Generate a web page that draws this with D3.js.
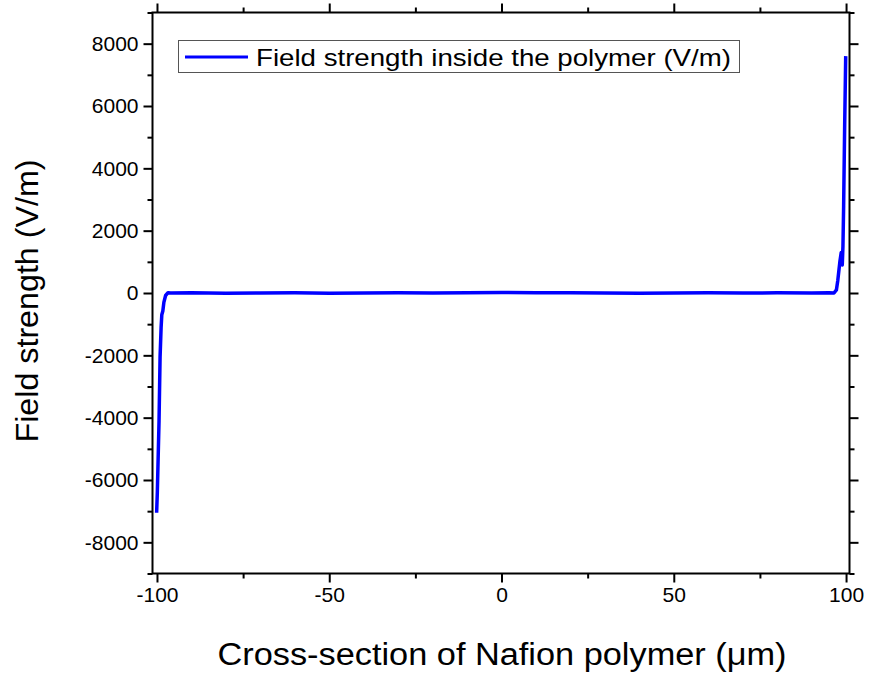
<!DOCTYPE html>
<html>
<head>
<meta charset="utf-8">
<script src="https://cdn.jsdelivr.net/npm/d3@7/dist/d3.min.js"></script>
<style>
  body { margin: 0; background: #fff; }
  svg { display: block; font-family: "Liberation Sans", Arial, sans-serif; }
</style>
</head>
<body>
<svg id="chart" width="869" height="675"></svg>
<script>
// position across the membrane (um)
var positions = [
  -100.1, -99.9, -99.4, -99.1, -98.8, -98.6, -98.3, -98.0, -97.5, -96.8, -96.0,
  -90, -80, -70, -60, -50, -40, -30, -20, -10, 0, 10, 20, 30, 40, 50, 60, 70,
  80, 90, 95, 96.5, 97.2, 97.6, 98.2, 98.6, 98.9, 99.1, 99.3, 99.6, 99.9
];

// field strength inside the polymer (V/m)
var fieldValues = [
  -7050, -6400, -4100, -2050, -1100, -700, -580, -300, -80, 10, 0,
  10, -5, 0, 5, -5, 0, 10, 0, 5, 15, 10, 5, 0, -5, 0, 5, 0,
  5, 0, 10, 0, 100, 400, 1000, 1300, 900, 1500, 2800, 5400, 7600
];

var xTicks = [-100, -50, 0, 50, 100];
var yTicks = [-8000, -6000, -4000, -2000, 0, 2000, 4000, 6000, 8000];
var xMinor = [-75, -25, 25, 75];
var yMinor = [-9000, -7000, -5000, -3000, -1000, 1000, 3000, 5000, 7000, 9000];

var seriesName = 'Field strength inside the polymer (V/m)';

var svg = d3.select('#chart');

// plot frame (edges in pixels)
var frameL = 152.5, frameR = 849.5, frameT = 12.5, frameB = 573.5;

var x = d3.scaleLinear()
  .domain([-101.3, 101])
  .range([frameL, frameR]);

var y = d3.scaleLinear()
  .domain([-9000, 9000])
  .range([frameB, frameT]);

// plain hyphen minus, like the original
var fmt = function (d) { return String(d); };

// bottom axis
svg.append('g')
  .attr('transform', 'translate(0,' + frameB + ')')
  .call(d3.axisBottom(x).tickValues(xTicks).tickSize(9).tickPadding(5)
    .tickFormat(fmt));

svg.append('g')
  .attr('transform', 'translate(0,' + frameB + ')')
  .call(d3.axisBottom(x).tickValues(xMinor).tickSize(5).tickFormat(''));

// top axis, ticks only
svg.append('g')
  .attr('transform', 'translate(0,' + frameT + ')')
  .call(d3.axisTop(x).tickValues(xTicks).tickSize(9).tickFormat(''));

svg.append('g')
  .attr('transform', 'translate(0,' + frameT + ')')
  .call(d3.axisTop(x).tickValues(xMinor).tickSize(5).tickFormat(''));

// left axis
svg.append('g')
  .attr('transform', 'translate(' + frameL + ',0)')
  .call(d3.axisLeft(y).tickValues(yTicks).tickSize(9).tickPadding(5)
    .tickFormat(fmt));

svg.append('g')
  .attr('transform', 'translate(' + frameL + ',0)')
  .call(d3.axisLeft(y).tickValues(yMinor).tickSize(5).tickFormat(''));

// right axis, ticks only
svg.append('g')
  .attr('transform', 'translate(' + frameR + ',0)')
  .call(d3.axisRight(y).tickValues(yTicks).tickSize(9).tickFormat(''));

svg.append('g')
  .attr('transform', 'translate(' + frameR + ',0)')
  .call(d3.axisRight(y).tickValues(yMinor).tickSize(5).tickFormat(''));

// style all the axes like the origin plot
svg.selectAll('.domain').remove();
svg.selectAll('.tick line')
  .attr('stroke', '#000')
  .attr('stroke-width', 2);
svg.selectAll('.tick text')
  .attr('fill', '#000')
  .style('font-size', '21px')
  .style('font-family', '"Liberation Sans", Arial, sans-serif');

// frame
svg.append('rect')
  .attr('x', frameL)
  .attr('y', frameT)
  .attr('width', frameR - frameL)
  .attr('height', frameB - frameT)
  .attr('fill', 'none')
  .attr('stroke', '#000')
  .attr('stroke-width', 2);

// the data line
var line = d3.line()
  .x(function (d, i) { return x(positions[i]); })
  .y(function (d) { return y(d); });

svg.append('path')
  .datum(fieldValues)
  .attr('d', line)
  .attr('fill', 'none')
  .attr('stroke', '#0000ff')
  .attr('stroke-width', 3.5)
  .attr('stroke-linejoin', 'round');

// legend
var legend = svg.append('g');

legend.append('rect')
  .attr('x', 178.5)
  .attr('y', 40.5)
  .attr('width', 561)
  .attr('height', 32)
  .attr('fill', '#fff')
  .attr('stroke', '#555')
  .attr('stroke-width', 1);

legend.append('line')
  .attr('x1', 185)
  .attr('x2', 248)
  .attr('y1', 57)
  .attr('y2', 57)
  .attr('stroke', '#0000ff')
  .attr('stroke-width', 3);

legend.append('text')
  .attr('x', 256)
  .attr('y', 66)
  .attr('fill', '#000')
  .attr('textLength', 475)
  .attr('lengthAdjust', 'spacingAndGlyphs')
  .style('font-size', '24px')
  .text(seriesName);

// axis titles
svg.append('text')
  .attr('x', 502)
  .attr('y', 665)
  .attr('text-anchor', 'middle')
  .attr('fill', '#000')
  .attr('textLength', 569)
  .attr('lengthAdjust', 'spacingAndGlyphs')
  .style('font-size', '31px')
  .text('Cross-section of Nafion polymer (\u03bcm)');

svg.append('text')
  .attr('transform', 'translate(38,301) rotate(-90)')
  .attr('text-anchor', 'middle')
  .attr('fill', '#000')
  .attr('textLength', 283)
  .attr('lengthAdjust', 'spacingAndGlyphs')
  .style('font-size', '31px')
  .text('Field strength (V/m)');
</script>
</body>
</html>
